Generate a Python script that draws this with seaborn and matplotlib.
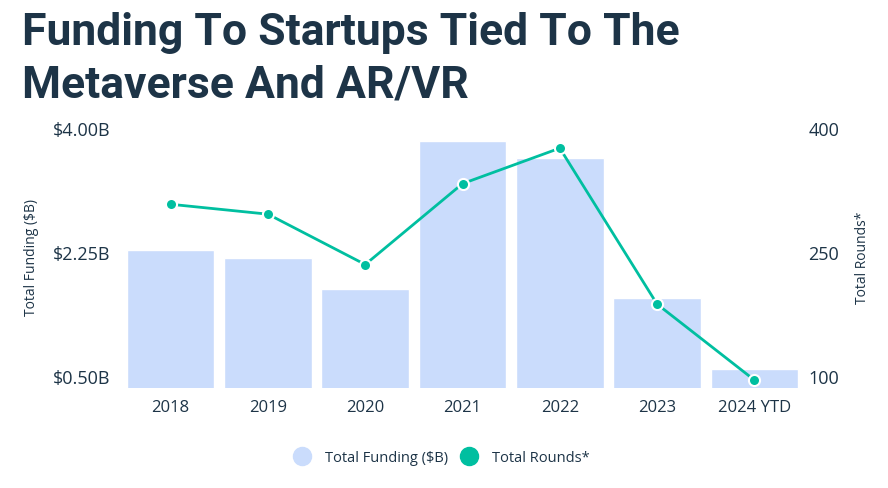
import matplotlib
matplotlib.use("Agg")
import matplotlib.pyplot as plt
from matplotlib.lines import Line2D
import seaborn as sns
import pandas as pd

# chart data
years = ["2018", "2019", "2020", "2021", "2022", "2023", "2024 YTD"]
funding_b = [2.27, 2.17, 1.72, 3.81, 3.58, 1.60, 0.59]
rounds = [308, 296, 235, 333, 376, 187, 95]
left_ticks = [0.5, 2.25, 4.0]
left_tick_labels = ["$0.50B", "$2.25B", "$4.00B"]
right_ticks = [100, 250, 400]

TXT = "#1d3447"
BAR = "#cadcfc"
TEAL = "#00bfa0"

sns.set_style("white")
plt.rcParams['font.family'] = ['Open Sans', 'DejaVu Sans']

df = pd.DataFrame({"year": years, "funding": funding_b, "rounds": rounds})

fig = plt.figure(figsize=(8.88, 4.89), dpi=100)
ax = fig.add_axes([0.1374, 0.2039, 0.7669, 0.5395])

sns.barplot(data=df, x="year", y="funding", color=BAR, width=0.9,
            saturation=1, ax=ax)
ax.set_ylim(0.322, 4.05)
ax.set_xlim(-0.5, 6.5)
ax.set_yticks(left_ticks)
ax.set_yticklabels(left_tick_labels)
ax.set_xlabel("")
ax.set_ylabel("Total Funding ($B)", fontsize=10, color=TXT, labelpad=10)
ax.tick_params(axis="y", length=0, labelsize=13, labelcolor=TXT, pad=8.5)
ax.tick_params(axis="x", length=0, labelsize=12, labelcolor=TXT, pad=8)

# rounds on the right-hand axis
ax2 = ax.twinx()
sns.pointplot(data=df, x="year", y="rounds", color=TEAL, ax=ax2,
              markersize=8, markeredgecolor="white", markeredgewidth=1.5,
              linewidth=2)
ax2.set_ylim(85, 404.7)
ax2.set_xlim(-0.5, 6.5)
ax2.set_yticks(right_ticks)
ax2.set_ylabel("Total Rounds*", fontsize=10, color=TXT, labelpad=11)
ax2.set_xlabel("")
ax2.tick_params(axis="y", length=0, labelsize=13, labelcolor=TXT, pad=4)

for a in (ax, ax2):
    for s in a.spines.values():
        s.set_visible(False)
    a.grid(False)

fig.text(0.025, 0.975, "Funding To Startups Tied To The\nMetaverse And AR/VR",
         fontsize=32, fontweight="bold", color=TXT, va="top", ha="left",
         linespacing=1.3, family=['Roboto', 'DejaVu Sans'])

handles = [
    Line2D([], [], marker="o", linestyle="", markersize=13, color=BAR),
    Line2D([], [], marker="o", linestyle="", markersize=13, color=TEAL),
]
fig.legend(handles, ["Total Funding ($B)", "Total Rounds*"],
           loc="center", bbox_to_anchor=(0.494, 0.062), ncol=2, frameon=False,
           fontsize=10.5, labelcolor=TXT, handletextpad=0.6, columnspacing=0.4)

fig.savefig("out.png", dpi=100)
